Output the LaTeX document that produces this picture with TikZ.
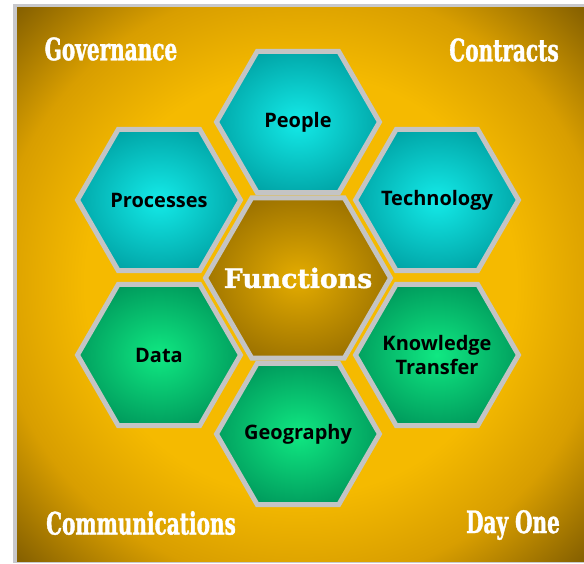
\documentclass[tikz,border=0pt]{standalone}
\usepackage{fontspec}
\setmainfont{Open Sans}
\newfontfamily\slabfont[FakeStretch=0.72, FakeBold=1.2]{DejaVu Serif Condensed Bold}
\newfontfamily\corefont[FakeBold=1.2]{DejaVu Serif Bold}
\usetikzlibrary{shapes.geometric}

\definecolor{goldglow}{RGB}{245, 186, 0}
\definecolor{goldmid}{RGB}{216, 158, 0}
\definecolor{golddark}{RGB}{136, 98, 0}
\definecolor{cyanin}{RGB}{20, 234, 232}
\definecolor{cyanout}{RGB}{0, 164, 166}
\definecolor{greenin}{RGB}{16, 232, 130}
\definecolor{greenout}{RGB}{0, 154, 92}
\definecolor{corein}{RGB}{228, 172, 0}
\definecolor{coreout}{RGB}{156, 114, 0}
\definecolor{hexrim}{RGB}{196, 196, 196}
\definecolor{framegrey}{RGB}{200, 200, 204}

% path box edges sit at 25bp, box corners at about 35bp
\pgfdeclareradialshading{backshade}{\pgfpoint{0bp}{0bp}}{color(0bp)=(goldglow); color(19bp)=(goldglow); color(27bp)=(goldmid); color(35bp)=(golddark); color(50bp)=(golddark)}
\pgfdeclareradialshading{cyanshade}{\pgfpoint{0bp}{0bp}}{color(0bp)=(cyanin); color(27bp)=(cyanout); color(50bp)=(cyanout)}
\pgfdeclareradialshading{greenshade}{\pgfpoint{0bp}{0bp}}{color(0bp)=(greenin); color(27bp)=(greenout); color(50bp)=(greenout)}
\pgfdeclareradialshading{coreshade}{\pgfpoint{0bp}{0bp}}{color(0bp)=(corein); color(27bp)=(coreout); color(50bp)=(coreout)}

\begin{document}
\begin{tikzpicture}[x=0.25mm, y=-0.25mm,
        hex/.style={regular polygon, regular polygon sides=6, minimum size=40.75mm, inner sep=0pt, draw=hexrim, line width=3.5pt},
        bluehex/.style={hex, shading=cyanshade},
        greenhex/.style={hex, shading=greenshade},
        corehex/.style={hex, minimum size=46.25mm, shading=coreshade},
        hexlabel/.style={align=center, text=black, font=\fontsize{14.2}{16.4}\selectfont\bfseries},
        corelabel/.style={text=white, font=\corefont\fontsize{19}{22}\selectfont},
        corner/.style={text=white, inner sep=0pt, font=\slabfont\fontsize{22}{26}\selectfont}
      ]
        \useasboundingbox (0, 0) rectangle (584, 563);
        \fill[white] (0, 0) rectangle (584, 563);
        \fill[framegrey] (13, 4) rectangle (584, 563);
        \shade[shading=backshade] (17, 7) rectangle (584, 561);

        % honeycomb
        \node[corehex]  (functions)  at (298, 278) {};
        \node[bluehex]  (people)     at (298, 122) {};
        \node[bluehex]  (processes)  at (159, 200) {};
        \node[bluehex]  (technology) at (437, 200) {};
        \node[greenhex] (data)       at (159, 355) {};
        \node[greenhex] (knowledge)  at (437, 355) {};
        \node[greenhex] (geography)  at (298, 434) {};

        \node[corelabel] (functions-text)  at (functions)  {Functions};
        \node[hexlabel]  (people-text)     at (people)     {People};
        \node[hexlabel]  (processes-text)  at (processes)  {Processes};
        \node[hexlabel]  (technology-text) at (technology) {Technology};
        \node[hexlabel]  (data-text)       at (data)       {Data};
        \node[hexlabel]  (knowledge-text)  at (knowledge)  {Knowledge\\Transfer};
        \node[hexlabel]  (geography-text)  at (geography)  {Geography};

        % corner headings
        \node[corner] (governance) at (111, 49)  {Governance};
        \node[corner] (contracts)  at (504, 50)  {Contracts};
        \node[corner] (comms)      at (141, 523) {Communications};
        \node[corner] (dayone)     at (513, 525) {Day One};
      \end{tikzpicture}
\end{document}
